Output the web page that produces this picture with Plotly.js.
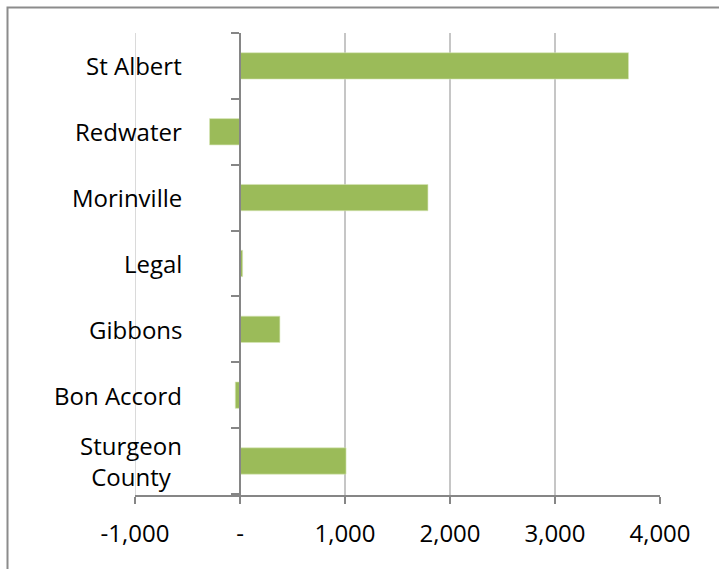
<!DOCTYPE html>
<html>
<head>
<meta charset="utf-8">
<script src="https://cdn.plot.ly/plotly-3.0.1.min.js"></script>
<style>
  html, body { margin: 0; padding: 0; background: #ffffff; }
  #chart { width: 719px; height: 569px; }
</style>
</head>
<body>
<div id="chart"></div>
<script>
// Categories from bottom to top
const categories = ["Sturgeon County", "Bon Accord", "Gibbons", "Legal", "Morinville", "Redwater", "St Albert"];
const categoryLabels = ["Sturgeon<br>County", "Bon Accord", "Gibbons", "Legal", "Morinville", "Redwater", "St Albert"];
const values = [1010, -45, 380, 25, 1790, -290, 3700];
const xTickVals = [-1000, 0, 1000, 2000, 3000, 4000];
const xTickText = ["-1,000", "-", "1,000", "2,000", "3,000", "4,000"];

const FONT = "Open Sans, sans-serif";
const AXIS_GREY = "#868686";
const GRID_GREY = "#c6c6c6";

const W = 719, H = 569;
const M = { l: 135, r: 59, t: 33, b: 74 };
const pw = W - M.l - M.r, ph = H - M.t - M.b;
const zeroPos = (0 - (-1000)) / (4000 - (-1000));

const trace = {
  type: "bar",
  orientation: "h",
  y: categories,
  x: values,
  marker: { color: "#9BBB59", line: { color: "#d6e5b8", width: 0.6 } },
  hoverinfo: "x+y"
};

const annotations = categories.map((c, i) => ({
  xref: "paper", yref: "y",
  x: (184 - M.l) / pw, y: c,
  xanchor: "right", yanchor: "middle",
  align: "center",
  text: categoryLabels[i],
  showarrow: false,
  font: { family: FONT, size: 24, color: "#000000" }
}));

const layout = {
  width: W, height: H,
  margin: M,
  paper_bgcolor: "#ffffff",
  plot_bgcolor: "#ffffff",
  showlegend: false,
  bargap: 0.6,
  xaxis: {
    range: [-1000, 4000],
    tickvals: xTickVals,
    ticktext: xTickText,
    showgrid: true,
    gridcolor: GRID_GREY,
    gridwidth: 1.3,
    zeroline: false,
    showline: true,
    linecolor: AXIS_GREY,
    linewidth: 2,
    ticks: "outside",
    ticklen: 7,
    tickwidth: 2,
    tickcolor: AXIS_GREY,
    ticklabelstandoff: 9,
    tickfont: { family: FONT, size: 24, color: "#000000" },
    fixedrange: true
  },
  yaxis: {
    type: "category",
    categoryorder: "array",
    categoryarray: categories,
    anchor: "free",
    position: zeroPos,
    showline: true,
    linecolor: AXIS_GREY,
    linewidth: 2,
    ticks: "outside",
    tickson: "boundaries",
    ticklen: 8,
    tickwidth: 2,
    tickcolor: AXIS_GREY,
    showgrid: false,
    zeroline: false,
    showticklabels: false,
    fixedrange: true
  },
  annotations: annotations,
  shapes: [{
    type: "rect",
    xref: "paper", yref: "paper",
    x0: (7.5 - M.l) / pw, x1: (730 - M.l) / pw,
    y0: (H - M.b - 580) / ph, y1: (H - M.b - 7.5) / ph,
    line: { color: "#8c8c8c", width: 2 },
    fillcolor: "rgba(0,0,0,0)",
    layer: "below"
  }, {
    type: "line",
    xref: "x", yref: "paper",
    x0: xTickVals[0], x1: xTickVals[0],
    y0: 0, y1: 1,
    line: { color: GRID_GREY, width: 1.3 },
    layer: "below"
  }]
};

Plotly.newPlot("chart", [trace], layout, { displayModeBar: false, staticPlot: true });
</script>
</body>
</html>
